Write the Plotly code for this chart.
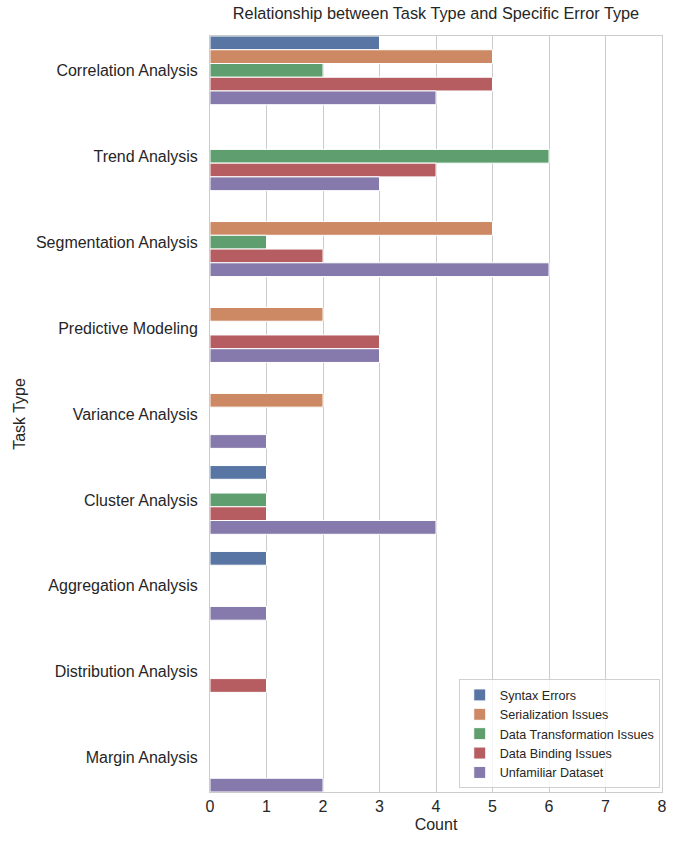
import plotly.graph_objects as go

task_types = ["Correlation Analysis", "Trend Analysis", "Segmentation Analysis",
              "Predictive Modeling", "Variance Analysis", "Cluster Analysis",
              "Aggregation Analysis", "Distribution Analysis", "Margin Analysis"]

error_types = ["Syntax Errors", "Serialization Issues", "Data Transformation Issues",
               "Data Binding Issues", "Unfamiliar Dataset"]

syntax_errors = [3, 0, 0, 0, 0, 1, 1, 0, 0]
serialization_issues = [5, 0, 5, 2, 2, 0, 0, 0, 0]
data_transformation_issues = [2, 6, 1, 0, 0, 1, 0, 0, 0]
data_binding_issues = [5, 4, 2, 3, 0, 1, 0, 1, 0]
unfamiliar_dataset = [4, 3, 6, 3, 1, 4, 1, 0, 2]

series = [syntax_errors, serialization_issues, data_transformation_issues,
          data_binding_issues, unfamiliar_dataset]
colors = ["#5975a4", "#cc8963", "#5f9e6e", "#b55d60", "#857aab"]

FONT = "Liberation Sans, Arial, sans-serif"
fig = go.Figure()
for name, vals, c in zip(error_types, series, colors):
    fig.add_trace(go.Bar(
        y=task_types, x=vals, name=name, orientation="h",
        marker=dict(color=c, line=dict(color="white", width=1)),
    ))

fig.update_layout(
    width=678, height=846,
    margin=dict(l=210, r=16, t=36, b=54),
    paper_bgcolor="white", plot_bgcolor="white",
    barmode="group", bargap=0.2, bargroupgap=0,
    font=dict(family=FONT, color="#262626", size=16),
    title=dict(text="Relationship between Task Type and Specific Error Type",
               x=0.5, xref="paper", xanchor="center", y=1, yref="container",
               yanchor="top", pad=dict(t=8), font=dict(size=16.3, color="#262626")),
    xaxis=dict(range=[0, 8], dtick=1, showgrid=True, gridcolor="#cccccc", gridwidth=1,
               zeroline=False, showline=True, linecolor="#cccccc", mirror=True,
               ticks="", tickfont=dict(size=16),
               title=dict(text="Count", font=dict(size=16), standoff=4)),
    yaxis=dict(categoryorder="array", categoryarray=task_types,
               range=[8.4, -0.4], showgrid=False, zeroline=False,
               showline=True, linecolor="#cccccc", mirror=True,
               ticks="", tickfont=dict(size=16), ticklabelstandoff=8,
               title=dict(text="Task Type", font=dict(size=16), standoff=6)),
    legend=dict(x=0.995, y=0.005, xanchor="right", yanchor="bottom",
                bordercolor="#d0d0d0", borderwidth=1, bgcolor="rgba(255,255,255,0.8)",
                font=dict(size=12.6), itemwidth=30, tracegroupgap=0),
)
fig.write_html("out.html", config={"displayModeBar": False},
               post_script="document.body.style.margin='0';")
